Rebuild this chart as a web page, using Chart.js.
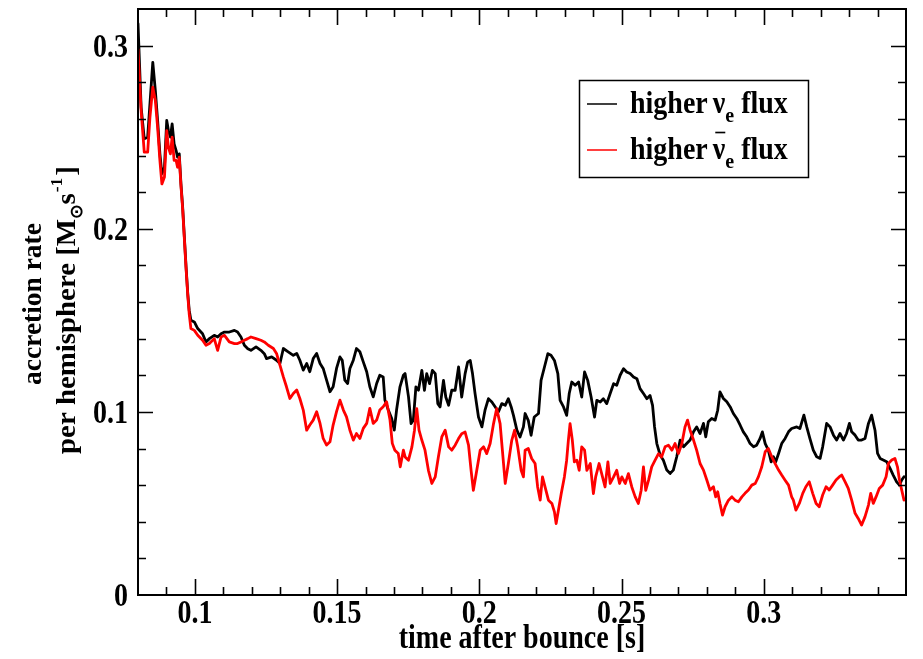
<!DOCTYPE html>
<html>
<head>
<meta charset="utf-8">
<script src="https://cdn.jsdelivr.net/npm/chart.js@4/dist/chart.umd.min.js"></script>
<style>
  html, body { margin: 0; padding: 0; background: #fff; }
  canvas { display: block; }
</style>
</head>
<body>
<canvas id="rate" width="923" height="659"></canvas>
<script>
// accretion rate per hemisphere, higher nu_e flux run
const blackTime = [
  0.0800, 0.0811, 0.0822, 0.0834, 0.0842, 0.0852, 0.0861, 0.0869, 0.0877, 0.0884,
  0.0893, 0.0901, 0.0907, 0.0914, 0.0920, 0.0927, 0.0934, 0.0939, 0.0945, 0.0951,
  0.0957, 0.0963, 0.0969, 0.0975, 0.0980, 0.0986, 0.0998, 0.1010, 0.1027, 0.1039,
  0.1051, 0.1068, 0.1080, 0.1092, 0.1104, 0.1121, 0.1139, 0.1150, 0.1162, 0.1174,
  0.1186, 0.1197, 0.1215, 0.1232, 0.1244,
  0.1252, 0.1270, 0.1287, 0.1299, 0.1311, 0.1328, 0.1346, 0.1358, 0.1369, 0.1381,
  0.1393, 0.1404, 0.1416, 0.1428, 0.1440, 0.1451, 0.1463, 0.1475, 0.1486, 0.1498,
  0.1510, 0.1518, 0.1527, 0.1537, 0.1545, 0.1557, 0.1568, 0.1580, 0.1592, 0.1604,
  0.1615, 0.1627, 0.1639, 0.1650, 0.1662, 0.1668, 0.1680, 0.1692, 0.1701, 0.1709,
  0.1721, 0.1733,
  0.1739, 0.1751, 0.1760, 0.1768, 0.1777, 0.1786, 0.1798, 0.1807, 0.1815, 0.1825,
  0.1835, 0.1845, 0.1854, 0.1862, 0.1874, 0.1882, 0.1892, 0.1903, 0.1915, 0.1927,
  0.1938, 0.1950, 0.1959, 0.1968, 0.1976, 0.1985, 0.1997, 0.2009, 0.2020, 0.2032,
  0.2044, 0.2056, 0.2067, 0.2079, 0.2091, 0.2102, 0.2112, 0.2120, 0.2132, 0.2143,
  0.2155,
  0.2161, 0.2172, 0.2182, 0.2193, 0.2208, 0.2217, 0.2229, 0.2241, 0.2252, 0.2264,
  0.2276, 0.2284, 0.2296, 0.2307, 0.2316, 0.2325, 0.2337, 0.2349, 0.2360, 0.2370,
  0.2381, 0.2393, 0.2405, 0.2413, 0.2425, 0.2436, 0.2448, 0.2460, 0.2472, 0.2483,
  0.2495, 0.2507, 0.2518, 0.2530, 0.2542, 0.2554, 0.2565, 0.2577, 0.2589, 0.2600,
  0.2609, 0.2616, 0.2624, 0.2636, 0.2647,
  0.2659, 0.2671, 0.2682, 0.2694, 0.2706, 0.2718, 0.2729, 0.2741, 0.2753, 0.2764,
  0.2776, 0.2788, 0.2796, 0.2805, 0.2817, 0.2829, 0.2838, 0.2846, 0.2858, 0.2870,
  0.2882, 0.2893, 0.2905, 0.2917, 0.2928, 0.2940, 0.2952, 0.2964, 0.2975, 0.2987,
  0.2995, 0.3005, 0.3016, 0.3026, 0.3034, 0.3042, 0.3052, 0.3063, 0.3075, 0.3087,
  0.3098, 0.3116, 0.3127, 0.3141, 0.3151, 0.3162, 0.3174, 0.3186, 0.3198, 0.3207,
  0.3221, 0.3233, 0.3245, 0.3256, 0.3268, 0.3280, 0.3291, 0.3301, 0.3309, 0.3321,
  0.3332, 0.3344, 0.3356, 0.3368, 0.3379, 0.3391, 0.3400, 0.3409, 0.3420, 0.3432,
  0.3444, 0.3455, 0.3467, 0.3477, 0.3485, 0.3493
];
const blackRate = [
  0.3120, 0.2663, 0.2491, 0.2500, 0.2682, 0.2909, 0.2754, 0.2591, 0.2409, 0.2300,
  0.2336, 0.2591, 0.2536, 0.2500, 0.2573, 0.2464, 0.2427, 0.2391, 0.2409, 0.2245,
  0.2118, 0.1954, 0.1791, 0.1645, 0.1555, 0.1500, 0.1491, 0.1455, 0.1427, 0.1382,
  0.1400, 0.1418, 0.1409, 0.1427, 0.1436, 0.1436, 0.1445, 0.1436, 0.1409, 0.1364,
  0.1345, 0.1336, 0.1355, 0.1336, 0.1318,
  0.1291, 0.1300, 0.1282, 0.1264, 0.1346, 0.1328, 0.1309, 0.1319, 0.1282, 0.1228,
  0.1264, 0.1219, 0.1291, 0.1319, 0.1264, 0.1237, 0.1173, 0.1110, 0.1137, 0.1237,
  0.1300, 0.1282, 0.1173, 0.1155, 0.1237, 0.1282, 0.1346, 0.1328, 0.1273, 0.1219,
  0.1137, 0.1082, 0.1155, 0.1200, 0.1191, 0.1064, 0.1010, 0.0964, 0.0900, 0.1010,
  0.1137, 0.1200,
  0.1209, 0.1082, 0.0936, 0.0955, 0.1136, 0.1118, 0.1227, 0.1118, 0.1209, 0.1154,
  0.1227, 0.1209, 0.1045, 0.1027, 0.1172, 0.1081, 0.1036, 0.1118, 0.1118, 0.1245,
  0.1081, 0.1209, 0.1272, 0.1281, 0.1209, 0.1100, 0.0972, 0.0918, 0.1009, 0.1072,
  0.1054, 0.1027, 0.1000, 0.1045, 0.1036, 0.1072, 0.1027, 0.0981, 0.0900, 0.0863,
  0.0918,
  0.0991, 0.0954, 0.0872, 0.0972, 0.0991, 0.1172, 0.1245, 0.1318, 0.1309, 0.1281,
  0.1209, 0.1063, 0.1027, 0.0981, 0.1100, 0.1163, 0.1145, 0.1163, 0.1081, 0.1218,
  0.1172, 0.1081, 0.0972, 0.1063, 0.1054, 0.1072, 0.1045, 0.1100, 0.1154, 0.1145,
  0.1200, 0.1236, 0.1218, 0.1209, 0.1190, 0.1181, 0.1127, 0.1100, 0.1072, 0.1090,
  0.1036, 0.0918, 0.0827, 0.0763, 0.0736,
  0.0682, 0.0664, 0.0682, 0.0755, 0.0846, 0.0809, 0.0827, 0.0846, 0.0891, 0.0918,
  0.0882, 0.0937, 0.0864, 0.0946, 0.0964, 0.0955, 0.1009, 0.1109, 0.1073, 0.1055,
  0.1027, 0.0991, 0.0964, 0.0927, 0.0891, 0.0864, 0.0827, 0.0809, 0.0818, 0.0855,
  0.0891, 0.0827, 0.0791, 0.0727, 0.0755, 0.0727, 0.0773, 0.0827, 0.0855, 0.0891,
  0.0909, 0.0918, 0.0909, 0.0982, 0.0918, 0.0855, 0.0791, 0.0755, 0.0746, 0.0809,
  0.0937, 0.0918, 0.0873, 0.0846, 0.0882, 0.0846, 0.0882, 0.0937, 0.0891, 0.0873,
  0.0846, 0.0846, 0.0855, 0.0937, 0.0982, 0.0900, 0.0773, 0.0746, 0.0737, 0.0728,
  0.0691, 0.0655, 0.0618, 0.0600, 0.0628, 0.0646
];

// higher anti-nu_e flux run
const redTime = [
  0.0800, 0.0811, 0.0822, 0.0834, 0.0842, 0.0852, 0.0861, 0.0869, 0.0877, 0.0884,
  0.0893, 0.0901, 0.0907, 0.0914, 0.0920, 0.0927, 0.0934, 0.0939, 0.0945, 0.0951,
  0.0957, 0.0963, 0.0969, 0.0975, 0.0980, 0.0986, 0.0998, 0.1010, 0.1027, 0.1039,
  0.1051, 0.1068, 0.1080, 0.1092, 0.1104, 0.1121, 0.1139, 0.1150, 0.1162, 0.1174,
  0.1186, 0.1197, 0.1215, 0.1232, 0.1244,
  0.1258, 0.1276, 0.1287, 0.1299, 0.1311, 0.1322, 0.1334, 0.1346, 0.1358, 0.1369,
  0.1381, 0.1393, 0.1404, 0.1416, 0.1428, 0.1440, 0.1451, 0.1463, 0.1475, 0.1486,
  0.1498, 0.1510, 0.1522, 0.1533, 0.1545, 0.1557, 0.1568, 0.1580, 0.1592, 0.1604,
  0.1615, 0.1627, 0.1639, 0.1650, 0.1662, 0.1674, 0.1686, 0.1694, 0.1703, 0.1715,
  0.1722, 0.1733,
  0.1739, 0.1751, 0.1763, 0.1772, 0.1780, 0.1788, 0.1798, 0.1809, 0.1821, 0.1833,
  0.1845, 0.1856, 0.1868, 0.1880, 0.1892, 0.1903, 0.1915, 0.1927, 0.1938, 0.1950,
  0.1962, 0.1971, 0.1979, 0.1991, 0.2003, 0.2015, 0.2026, 0.2038, 0.2050, 0.2061,
  0.2073, 0.2081, 0.2091, 0.2102, 0.2114, 0.2124, 0.2135, 0.2147, 0.2155,
  0.2161, 0.2172, 0.2184, 0.2196, 0.2205, 0.2214, 0.2222, 0.2231, 0.2243, 0.2255,
  0.2264, 0.2270, 0.2278, 0.2288, 0.2299, 0.2307, 0.2313, 0.2319, 0.2327, 0.2334,
  0.2343, 0.2351, 0.2360, 0.2370, 0.2378, 0.2390, 0.2401, 0.2409, 0.2421, 0.2433,
  0.2442, 0.2452, 0.2460, 0.2472, 0.2483, 0.2493, 0.2501, 0.2513, 0.2524, 0.2536,
  0.2548, 0.2559, 0.2569, 0.2577, 0.2585, 0.2595, 0.2606, 0.2618, 0.2630, 0.2641,
  0.2653, 0.2665, 0.2677, 0.2688, 0.2700, 0.2712, 0.2723, 0.2732, 0.2741, 0.2753,
  0.2764, 0.2776, 0.2788, 0.2800, 0.2811, 0.2823, 0.2831, 0.2838, 0.2846, 0.2855,
  0.2864, 0.2876, 0.2888, 0.2899, 0.2911, 0.2923, 0.2934, 0.2946, 0.2958, 0.2970,
  0.2981, 0.2993, 0.3005, 0.3016, 0.3028, 0.3040, 0.3052, 0.3063, 0.3075, 0.3087,
  0.3098,
  0.3104, 0.3113, 0.3125, 0.3137, 0.3148, 0.3160, 0.3172, 0.3184, 0.3195, 0.3207,
  0.3219, 0.3230, 0.3242, 0.3254, 0.3266, 0.3274, 0.3286, 0.3297, 0.3309, 0.3321,
  0.3332, 0.3344, 0.3356, 0.3368, 0.3376, 0.3385, 0.3395, 0.3406, 0.3418, 0.3430,
  0.3438, 0.3450, 0.3461, 0.3470, 0.3477, 0.3485, 0.3493
];
const redRate = [
  0.2980, 0.2645, 0.2418, 0.2418, 0.2609, 0.2773, 0.2700, 0.2554, 0.2373, 0.2245,
  0.2282, 0.2536, 0.2445, 0.2409, 0.2500, 0.2373, 0.2373, 0.2336, 0.2391, 0.2236,
  0.2109, 0.1945, 0.1782, 0.1636, 0.1536, 0.1455, 0.1445, 0.1418, 0.1391, 0.1364,
  0.1373, 0.1400, 0.1336, 0.1409, 0.1418, 0.1382, 0.1373, 0.1373, 0.1382, 0.1391,
  0.1400, 0.1409, 0.1400, 0.1391, 0.1382,
  0.1364, 0.1346, 0.1319, 0.1255, 0.1191, 0.1137, 0.1073, 0.1100, 0.1119, 0.1073,
  0.1010, 0.0900, 0.0928, 0.0955, 0.1001, 0.0937, 0.0855, 0.0819, 0.0837, 0.0928,
  0.1001, 0.1064, 0.1010, 0.0973, 0.0900, 0.0846, 0.0882, 0.0855, 0.0910, 0.0937,
  0.1019, 0.0937, 0.0955, 0.1010, 0.1028, 0.1055, 0.0955, 0.0828, 0.0791, 0.0773,
  0.0700, 0.0791,
  0.0754, 0.0736, 0.0809, 0.0900, 0.1018, 0.0900, 0.0845, 0.0791, 0.0681, 0.0609,
  0.0645, 0.0754, 0.0863, 0.0900, 0.0809, 0.0791, 0.0818, 0.0854, 0.0881, 0.0890,
  0.0818, 0.0681, 0.0572, 0.0681, 0.0791, 0.0809, 0.0772, 0.0827, 0.0936, 0.1018,
  0.0936, 0.0791, 0.0609, 0.0718, 0.0845, 0.0900, 0.0809, 0.0681, 0.0645,
  0.0791, 0.0800, 0.0745, 0.0718, 0.0590, 0.0518, 0.0645, 0.0590, 0.0518, 0.0500,
  0.0454, 0.0390, 0.0463, 0.0554, 0.0645, 0.0736, 0.0845, 0.0936, 0.0845, 0.0727,
  0.0736, 0.0681, 0.0809, 0.0791, 0.0681, 0.0718, 0.0554, 0.0645, 0.0718, 0.0645,
  0.0590, 0.0727, 0.0609, 0.0645, 0.0681, 0.0609, 0.0645, 0.0609, 0.0663, 0.0590,
  0.0536, 0.0500, 0.0572, 0.0700, 0.0572, 0.0627, 0.0700, 0.0736, 0.0772, 0.0754,
  0.0809, 0.0818, 0.0791, 0.0827, 0.0773, 0.0827, 0.0918, 0.0955, 0.0900, 0.0846,
  0.0791, 0.0718, 0.0682, 0.0627, 0.0573, 0.0591, 0.0536, 0.0564, 0.0500, 0.0436,
  0.0482, 0.0518, 0.0536, 0.0518, 0.0509, 0.0536, 0.0555, 0.0573, 0.0600, 0.0609,
  0.0645, 0.0700, 0.0782, 0.0800, 0.0755, 0.0718, 0.0682, 0.0655, 0.0627, 0.0600,
  0.0536,
  0.0518, 0.0464, 0.0500, 0.0555, 0.0591, 0.0618, 0.0555, 0.0500, 0.0482, 0.0546,
  0.0591, 0.0573, 0.0600, 0.0628, 0.0646, 0.0655, 0.0618, 0.0582, 0.0518, 0.0446,
  0.0418, 0.0382, 0.0428, 0.0491, 0.0555, 0.0500, 0.0537, 0.0582, 0.0600, 0.0646,
  0.0718, 0.0737, 0.0746, 0.0700, 0.0628, 0.0573, 0.0518
];

const xTickValues = [0.1, 0.15, 0.2, 0.25, 0.3];
const yTickValues = [0, 0.1, 0.2, 0.3];
const xRange = [0.08, 0.35];
const yRange = [0, 0.32];
const xMinorStep = 0.01;
const yMinorStep = 0.02;

const SERIF = '"Liberation Serif", "Times New Roman", serif';
const STRETCH = 1.22; // tick and axis labels are drawn taller than wide

function toPoints(ts, vs) {
  return ts.map((t, i) => ({ x: t, y: vs[i] }));
}

// draws a run of text pieces (with sub/superscripts) starting at (0,0) in the current frame
function drawRun(ctx, pieces, baseSize, align) {
  let total = 0;
  for (const p of pieces) {
    ctx.font = `bold ${Math.round(baseSize * (p.scale || 1))}px ${SERIF}`;
    p.w = ctx.measureText(p.text).width + (p.gap || 0);
    total += p.w;
  }
  let x = align === 'center' ? -total / 2 : align === 'right' ? -total : 0;
  for (const p of pieces) {
    ctx.font = `bold ${Math.round(baseSize * (p.scale || 1))}px ${SERIF}`;
    ctx.textAlign = 'left';
    ctx.textBaseline = 'alphabetic';
    ctx.fillText(p.text, x, (p.dy || 0) * baseSize);
    if (p.bar) {
      const bw = ctx.measureText(p.text).width;
      ctx.save();
      ctx.lineWidth = 1.5;
      ctx.beginPath();
      ctx.moveTo(x + bw * 0.2, -baseSize * 0.86);
      ctx.lineTo(x + bw * 1.0, -baseSize * 0.86);
      ctx.stroke();
      ctx.restore();
    }
    x += p.w;
  }
}

function stretchedText(ctx, text, x, y, size, align) {
  ctx.save();
  ctx.translate(x, y);
  ctx.scale(1, STRETCH);
  drawRun(ctx, [{ text }], size, align);
  ctx.restore();
}

const framePlugin = {
  id: 'frame',
  afterDraw(chart) {
    const { ctx, chartArea: a, scales: { x, y } } = chart;
    ctx.save();
    ctx.fillStyle = '#000';
    ctx.strokeStyle = '#000';

    // inward ticks on all four sides
    ctx.lineWidth = 1.6;
    ctx.beginPath();
    for (let v = xRange[0] + xMinorStep; v < xRange[1] - 1e-9; v += xMinorStep) {
      const major = xTickValues.some(t => Math.abs(t - v) < 1e-6);
      const len = major ? 16 : 8;
      const px = Math.round(x.getPixelForValue(v)) + 0.5;
      ctx.moveTo(px, a.bottom); ctx.lineTo(px, a.bottom - len);
      ctx.moveTo(px, a.top); ctx.lineTo(px, a.top + len);
    }
    for (let v = yRange[0] + yMinorStep; v < yRange[1] - 1e-9; v += yMinorStep) {
      const major = yTickValues.some(t => Math.abs(t - v) < 1e-6);
      const len = major ? 15 : 8;
      const py = Math.round(y.getPixelForValue(v)) + 0.5;
      ctx.moveTo(a.left, py); ctx.lineTo(a.left + len, py);
      ctx.moveTo(a.right, py); ctx.lineTo(a.right - len, py);
    }
    ctx.stroke();

    ctx.lineWidth = 2;
    ctx.strokeRect(a.left, a.top, a.right - a.left, a.bottom - a.top);

    // tick labels
    for (const v of xTickValues) {
      stretchedText(ctx, String(v), x.getPixelForValue(v), a.bottom + 28, 28, 'center');
    }
    for (const v of yTickValues) {
      stretchedText(ctx, String(v), a.left - 10, y.getPixelForValue(v) + 11, 28, 'right');
    }

    // axis titles
    stretchedText(ctx, 'time after bounce [s]', (a.left + a.right) / 2, a.bottom + 53, 28, 'center');

    const cy = (a.top + a.bottom) / 2;
    ctx.save();
    ctx.translate(41, cy + 2);
    ctx.rotate(-Math.PI / 2);
    ctx.scale(0.98, 1);
    drawRun(ctx, [{ text: 'accretion rate' }], 28, 'center');
    ctx.restore();

    ctx.save();
    ctx.translate(75, cy + 8);
    ctx.rotate(-Math.PI / 2);
    ctx.scale(1.03, 1);
    drawRun(ctx, [
      { text: 'per hemisphere [M' },
      { text: '\u2299', scale: 0.6, dy: 0.25 },
      { text: 's', gap: 1 },
      { text: '-1', scale: 0.6, dy: -0.45, gap: 2 },
      { text: ']' }
    ], 28, 'center');
    ctx.restore();

    // legend
    const lx = a.right - 327, ly = a.top + 71;
    ctx.lineWidth = 1.5;
    ctx.strokeRect(lx + 0.5, ly + 0.5, 229, 97);
    const rows = [
      { color: '#000000', bar: false },
      { color: '#ff0000', bar: true }
    ];
    rows.forEach((r, i) => {
      const rowY = ly + 24 + i * 46;
      ctx.strokeStyle = r.color;
      ctx.lineWidth = 1.5;
      ctx.beginPath();
      ctx.moveTo(lx + 8, rowY);
      ctx.lineTo(lx + 38, rowY);
      ctx.stroke();
      ctx.strokeStyle = '#000';
      ctx.save();
      ctx.translate(lx + 51, rowY + 9);
      ctx.scale(1, 1.1);
      drawRun(ctx, [
        { text: 'higher', gap: 5 },
        { text: '\u03bd', bar: r.bar },
        { text: 'e', scale: 0.7, dy: 0.3, gap: 7 },
        { text: 'flux' }
      ], 28, 'left');
      ctx.restore();
    });

    ctx.restore();
  }
};

new Chart(document.getElementById('rate'), {
  type: 'line',
  data: {
    datasets: [
      {
        label: 'higher \u03bde flux',
        data: toPoints(blackTime, blackRate),
        borderColor: '#000000',
        borderWidth: 2.8,
        order: 1
      },
      {
        label: 'higher anti-\u03bde flux',
        data: toPoints(redTime, redRate),
        borderColor: '#ff0000',
        borderWidth: 2.8,
        order: 0
      }
    ]
  },
  options: {
    responsive: false,
    animation: false,
    devicePixelRatio: 1,
    layout: { padding: { left: 138, right: 17, top: 9, bottom: 64 } },
    elements: {
      point: { radius: 0, hoverRadius: 0 },
      line: { tension: 0, borderJoinStyle: 'round', borderCapStyle: 'round' }
    },
    scales: {
      x: { type: 'linear', min: xRange[0], max: xRange[1], display: false },
      y: { type: 'linear', min: yRange[0], max: yRange[1], display: false }
    },
    plugins: {
      legend: { display: false },
      tooltip: { enabled: false }
    }
  },
  plugins: [framePlugin]
});
</script>
</body>
</html>
